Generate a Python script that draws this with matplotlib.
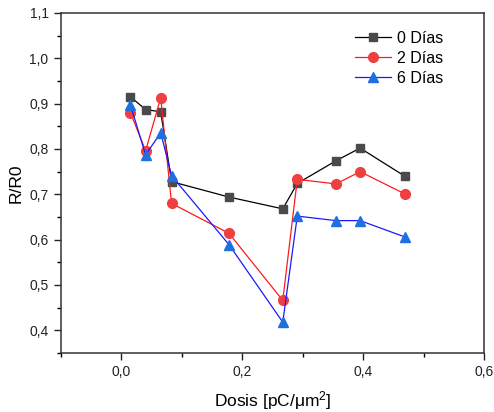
import matplotlib
matplotlib.use("Agg")
import matplotlib.pyplot as plt
from matplotlib.ticker import MultipleLocator, FuncFormatter

plt.rcParams['font.family'] = ['Liberation Sans', 'DejaVu Sans']
plt.rcParams['mathtext.fontset'] = 'custom'
plt.rcParams['mathtext.rm'] = 'Liberation Sans'
plt.rcParams['mathtext.it'] = 'Liberation Sans:italic'

dosis = [0.015, 0.040, 0.065, 0.083, 0.178, 0.267, 0.291, 0.355, 0.395, 0.469]
dias0 = [0.915, 0.887, 0.882, 0.728, 0.694, 0.668, 0.724, 0.774, 0.802, 0.740]
dias2 = [0.880, 0.796, 0.913, 0.680, 0.614, 0.466, 0.733, 0.723, 0.750, 0.701]
dias6 = [0.897, 0.787, 0.836, 0.741, 0.589, 0.418, 0.652, 0.642, 0.642, 0.606]
labels = ["0 Días", "2 Días", "6 Días"]

fig = plt.figure(figsize=(4.94, 4.12), dpi=100)
ax = fig.add_axes([61/494, 1 - 353/412, (484-61)/494, (353-13)/412])

ax.plot(dosis, dias0, '-', color='black', lw=0.9, marker='s', ms=6,
        mfc='#4a4a4a', mec='#4a4a4a', label=labels[0])
ax.plot(dosis, dias2, '-', color='#ff1a1a', lw=0.9, marker='o', ms=7,
        mfc='#ee4040', mec='#ee4040', label=labels[1])
ax.plot(dosis, dias6, '-', color='#1a1aff', lw=0.9, marker='^', ms=7.5,
        mfc='#1f6fe0', mec='#1f6fe0', label=labels[2])

ax.set_xlim(-0.1, 0.6)
ax.set_ylim(0.35, 1.1)
ax.xaxis.set_major_locator(MultipleLocator(0.2))
ax.xaxis.set_minor_locator(MultipleLocator(0.1))
ax.yaxis.set_major_locator(MultipleLocator(0.1))
ax.yaxis.set_minor_locator(MultipleLocator(0.05))
fmt = FuncFormatter(lambda v, p: f"{v:.1f}".replace('.', ','))
ax.xaxis.set_major_formatter(fmt)
ax.yaxis.set_major_formatter(fmt)
ax.tick_params(which='major', direction='out', length=5, width=1, labelsize=10,
               colors='#222222', top=False, right=False, pad=4)
ax.tick_params(which='minor', direction='out', length=3, width=1,
               top=False, right=False)
for s in ax.spines.values():
    s.set_color('#333333')
    s.set_linewidth(1.1)

ax.set_xlabel("Dosis [pC/μm$^2$]", fontsize=12.5, labelpad=7)
ax.set_ylabel("R/R0", fontsize=12.5, labelpad=4)

ax.legend(loc='upper right', frameon=False, fontsize=11.5, handlelength=2.2,
          borderaxespad=0.3, bbox_to_anchor=(0.93, 0.98), labelspacing=0.3,
          handletextpad=0.4)

fig.savefig("out.png", dpi=100)
